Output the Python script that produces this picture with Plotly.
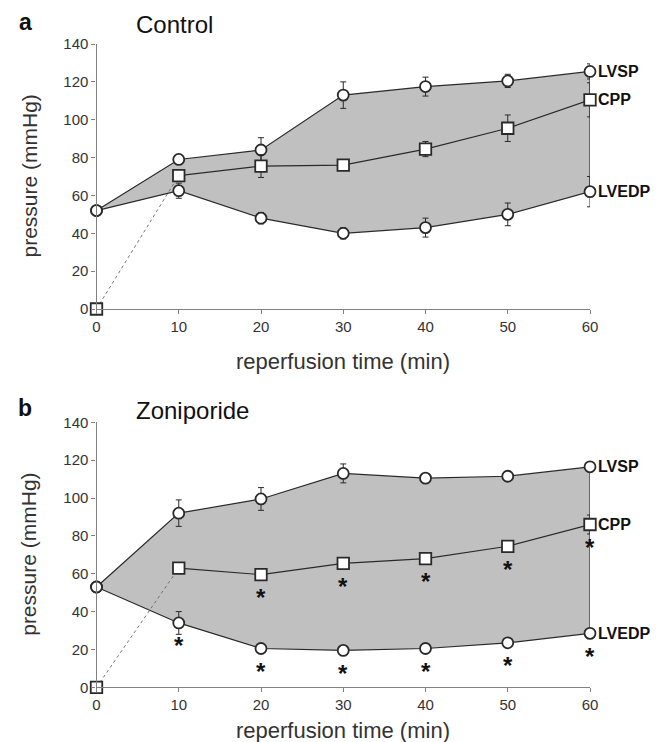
import plotly.graph_objects as go

# ---------------- data ----------------
times = [0, 10, 20, 30, 40, 50, 60]
tick_vals_x = [0, 10, 20, 30, 40, 50, 60]
tick_vals_y = [0, 20, 40, 60, 80, 100, 120, 140]

# Control (panel a)
lvsp_a = [52, 79, 84, 113, 117.5, 120.5, 125.5]
lvsp_a_err = [0, 2, 6.5, 7, 5, 3.5, 4]
cpp_a = [0, 70.5, 75.5, 76, 84.5, 95.5, 110.5]
cpp_a_err = [0, 3, 6, 2, 4, 7, 9]
lvedp_a = [52, 62.5, 48, 40, 43, 50, 62]
lvedp_a_err = [0, 4, 3, 3, 5, 6, 8]

# Zoniporide (panel b)
lvsp_b = [53, 92, 99.5, 113, 110.5, 111.5, 116.5]
lvsp_b_err = [0, 7, 6, 5, 1.5, 1.5, 1]
cpp_b = [0, 63, 59.5, 65.5, 68, 74.5, 86]
cpp_b_err = [0, 1, 3, 1.5, 1, 1, 5]
lvedp_b = [53, 34, 20.5, 19.5, 20.5, 23.5, 28.5]
lvedp_b_err = [0, 6, 1, 1, 1, 1, 1]

# significance (*) markers for panel b
sig_cpp_b = [20, 30, 40, 50, 60]
sig_lvedp_b = [10, 20, 30, 40, 50, 60]

series_labels = ["LVSP", "CPP", "LVEDP"]
panel_titles = ["Control", "Zoniporide"]
panel_letters = ["a", "b"]
x_title = "reperfusion time (min)"
y_title = "pressure (mmHg)"

# ---------------- layout helpers ----------------
W, H = 661, 742
OFF = 8  # page body margin offset
FONT = "Liberation Sans, Arial, sans-serif"
LINE = "#2a2a2a"
AXC = "#808080"
TXT = "#333333"
FILL = "#c0c0c0"


def px(x):
    return (x - OFF) / W


def py(y):
    return 1 - (y - OFF) / H


fig = go.Figure()

panels = [
    dict(lvsp=lvsp_a, lvsp_e=lvsp_a_err, cpp=cpp_a, cpp_e=cpp_a_err,
         lvedp=lvedp_a, lvedp_e=lvedp_a_err, top=44, bot=309, xt_gap=52,
         sig_cpp=[], sig_lvedp=[]),
    dict(lvsp=lvsp_b, lvsp_e=lvsp_b_err, cpp=cpp_b, cpp_e=cpp_b_err,
         lvedp=lvedp_b, lvedp_e=lvedp_b_err, top=422.3, bot=687.3, xt_gap=43,
         sig_cpp=sig_cpp_b, sig_lvedp=sig_lvedp_b),
]

X0, X1 = 96.5, 590.0
annotations = []

for i, p in enumerate(panels):
    xa = "x" if i == 0 else "x2"
    ya = "y" if i == 0 else "y2"
    # shaded polygon: LVSP forward, LVEDP back
    fig.add_trace(go.Scatter(
        x=times + times[::-1], y=p["lvsp"] + p["lvedp"][::-1],
        mode="lines", fill="toself", fillcolor=FILL,
        line=dict(color=LINE, width=1.2), xaxis=xa, yaxis=ya,
        hoverinfo="skip", showlegend=False))
    # CPP dotted first segment
    fig.add_trace(go.Scatter(
        x=times[:2], y=p["cpp"][:2], mode="lines",
        line=dict(color="#666666", width=0.9, dash="dot"),
        xaxis=xa, yaxis=ya, showlegend=False, hoverinfo="skip"))
    # CPP solid line
    fig.add_trace(go.Scatter(
        x=times[1:], y=p["cpp"][1:], mode="lines",
        line=dict(color=LINE, width=1.2),
        xaxis=xa, yaxis=ya, showlegend=False, hoverinfo="skip"))
    # markers with error bars
    for vals, errs, sym, sz in [(p["lvsp"], p["lvsp_e"], "circle", 11),
                                (p["lvedp"], p["lvedp_e"], "circle", 11),
                                (p["cpp"], p["cpp_e"], "square", 11.5)]:
        fig.add_trace(go.Scatter(
            x=times, y=vals, mode="markers",
            marker=dict(symbol=sym, size=sz,
                        color="white", line=dict(color=LINE, width=1.8)),
            error_y=dict(type="data", array=errs, visible=True,
                         color=LINE, thickness=1, width=3),
            xaxis=xa, yaxis=ya, showlegend=False, cliponaxis=False))
    # series labels at t=60
    for lab, vals in zip(series_labels, [p["lvsp"], p["cpp"], p["lvedp"]]):
        annotations.append(dict(
            x=times[-1], y=vals[-1], xref=xa, yref=ya, text="<b>%s</b>" % lab,
            showarrow=False, xanchor="left", yanchor="middle", xshift=6,
            font=dict(family=FONT, size=16, color="#111111")))
    # asterisks
    for t in p["sig_cpp"]:
        annotations.append(dict(
            x=t, y=p["cpp"][times.index(t)], xref=xa, yref=ya, text="<b>*</b>",
            showarrow=False, xanchor="center", yanchor="middle", yshift=-23,
            font=dict(family=FONT, size=24, color="#111111")))
    for t in p["sig_lvedp"]:
        annotations.append(dict(
            x=t, y=p["lvedp"][times.index(t)], xref=xa, yref=ya, text="<b>*</b>",
            showarrow=False, xanchor="center", yanchor="middle", yshift=-23,
            font=dict(family=FONT, size=24, color="#111111")))

axis_common = dict(showline=True, linecolor=AXC, linewidth=1.2, ticks="outside",
                   ticklen=4, tickcolor=AXC, showgrid=False, zeroline=False,
                   automargin=False,
                   tickfont=dict(family=FONT, size=15, color=TXT))

fig.update_layout(
    width=W, height=H, autosize=False,
    margin=dict(l=0, r=0, t=0, b=0, pad=0, autoexpand=False),
    plot_bgcolor="white", paper_bgcolor="white", showlegend=False,
    xaxis=dict(domain=[px(X0), px(X1)], range=[0, 60], tickvals=tick_vals_x,
               anchor="y", **axis_common),
    yaxis=dict(domain=[py(panels[0]["bot"]), py(panels[0]["top"])], range=[0, 140],
               tickvals=tick_vals_y, anchor="x", **axis_common),
    xaxis2=dict(domain=[px(X0), px(X1)], range=[0, 60], tickvals=tick_vals_x,
                anchor="y2", **axis_common),
    yaxis2=dict(domain=[py(panels[1]["bot"]), py(panels[1]["top"])], range=[0, 140],
                tickvals=tick_vals_y, anchor="x2", **axis_common),
)

# panel letters, titles and axis titles
for i, p in enumerate(panels):
    off = 0 if i == 0 else 386
    annotations.append(dict(x=px(25), y=py(22 + off), xref="paper", yref="paper",
                            text="<b>%s</b>" % panel_letters[i], showarrow=False,
                            xanchor="center", yanchor="middle",
                            font=dict(family=FONT, size=23, color="#111111")))
    annotations.append(dict(x=px(134), y=py(24 + off), xref="paper", yref="paper",
                            text=panel_titles[i], showarrow=False, xanchor="left",
                            yanchor="middle",
                            font=dict(family=FONT, size=24, color="#111111")))
    annotations.append(dict(x=px(29), y=py((p["top"] + p["bot"]) / 2), xref="paper",
                            yref="paper", text=y_title, textangle=-90, showarrow=False,
                            xanchor="center", yanchor="middle",
                            font=dict(family=FONT, size=21, color=TXT)))
    annotations.append(dict(x=px(343), y=py(p["bot"] + p["xt_gap"]), xref="paper",
                            yref="paper", text=x_title, showarrow=False,
                            xanchor="center", yanchor="middle",
                            font=dict(family=FONT, size=22, color=TXT)))

fig.update_layout(annotations=annotations)
fig.write_html("out.html")
